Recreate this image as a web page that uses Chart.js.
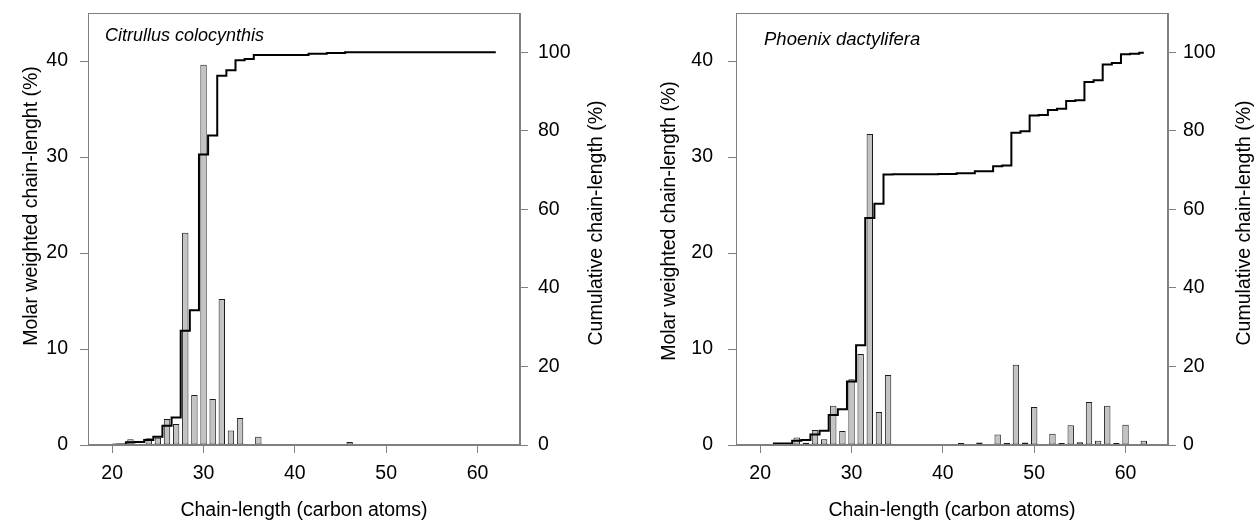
<!DOCTYPE html>
<html>
<head>
<meta charset="utf-8">
<script src="https://cdn.jsdelivr.net/npm/chart.js@4.4.0/dist/chart.umd.min.js"></script>
<style>
  html, body { margin: 0; padding: 0; background: #fff; }
  #wrap { position: relative; width: 1260px; height: 522px; }
  .panel { position: absolute; top: 0; width: 630px; height: 522px; }
  #left { left: 0; }
  #right { left: 630px; }
</style>
</head>
<body>
<div id="wrap">
  <div class="panel" id="left"><canvas id="chartCitrullus" width="630" height="522"></canvas></div>
  <div class="panel" id="right"><canvas id="chartPhoenix" width="630" height="522"></canvas></div>
</div>
<script>
// chain length (number of carbon atoms)
const chainLength = [20, 21, 22, 23, 24, 25, 26, 27, 28, 29, 30, 31, 32, 33, 34, 35, 36, 37, 38, 39, 40,
  41, 42, 43, 44, 45, 46, 47, 48, 49, 50, 51, 52, 53, 54, 55, 56, 57, 58, 59, 60, 61, 62];

const xTicks = [20, 30, 40, 50, 60];
const molarTicks = [0, 10, 20, 30, 40];
const cumulTicks = [0, 20, 40, 60, 80, 100];

// Citrullus colocynthis
const citrullusMolar = [0.05, 0.05, 0.6, 0.05, 0.7, 0.75, 2.7, 2.2, 22.1, 5.2, 39.6, 4.8, 15.2, 1.5, 2.8, 0.1, 0.85, 0, 0, 0, 0,
  0, 0.1, 0, 0.1, 0, 0.3, 0, 0, 0, 0, 0, 0, 0, 0, 0, 0, 0, 0, 0, 0, 0, 0];
const citrullusCumul = [0.05, 0.1, 0.7, 0.75, 1.3, 2.1, 4.9, 7.0, 29.1, 34.3, 74.0, 78.8, 94.0, 95.4, 98.0, 98.3, 99.3, 99.3, 99.3, 99.3, 99.3,
  99.3, 99.6, 99.6, 99.8, 99.8, 100, 100, 100, 100, 100, 100, 100, 100, 100, 100, 100, 100, 100, 100, 100, 100, 100];

// Phoenix dactylifera
const phoenixMolar = [0, 0.05, 0.1, 0.1, 0.77, 0.24, 1.57, 0.6, 4.08, 1.46, 6.86, 9.48, 32.4, 3.45, 7.28, 0, 0, 0, 0, 0, 0.05,
  0, 0.2, 0, 0.25, 0.05, 1.1, 0.2, 8.37, 0.25, 3.96, 0.1, 1.18, 0.2, 2.05, 0.28, 4.48, 0.45, 4.1, 0.2, 2.1, 0.05, 0.45];
const phoenixCumul = [0, 0, 0.4, 0.4, 1.1, 1.3, 2.7, 3.6, 7.65, 9.1, 16.2, 25.4, 57.8, 61.4, 68.9, 68.95, 68.95, 68.95, 68.95, 68.95, 69.0,
  69.0, 69.2, 69.2, 69.7, 69.7, 71.0, 71.2, 79.5, 79.9, 83.9, 84.0, 85.3, 85.6, 87.6, 87.8, 92.4, 92.9, 96.9, 97.3, 99.5, 99.6, 99.9];

const FONT = "'Liberation Sans', Arial, sans-serif";
const AXIS_GREY = '#7f7f7f';

// frame, species name and rotated y titles
const panelDecor = {
  id: 'panelDecor',
  afterDraw(chart, args, o) {
    const { ctx, chartArea: a } = chart;
    ctx.save();
    ctx.strokeStyle = AXIS_GREY;
    ctx.lineWidth = 1;
    ctx.strokeRect(Math.round(a.left) + 0.5, Math.round(a.top) + 0.5,
      Math.round(a.right - a.left) - 1, Math.round(a.bottom - a.top) - 1);

    ctx.fillStyle = '#000';
    ctx.font = 'italic ' + o.labelSize + 'px ' + FONT;
    ctx.textAlign = 'left';
    ctx.textBaseline = 'middle';
    ctx.fillText(o.label, a.left + o.labelDx, o.labelY);

    ctx.font = '19.5px ' + FONT;
    ctx.textAlign = 'center';
    [[o.leftTitle, o.leftX, o.leftY], [o.rightTitle, o.rightX, o.rightY]].forEach(([t, x, y]) => {
      ctx.save();
      ctx.translate(x, y);
      ctx.rotate(-Math.PI / 2);
      ctx.fillText(t, 0, 0);
      ctx.restore();
    });
    ctx.restore();
  }
};

function makePanel(id, molar, cumul, deco, leftW, rightW, leftPad, rightPad) {
  const tickFont = { family: FONT, size: 19.5 };
  // fixed axis boxes so the plot area lands at the same place in both panels
  const fitY = w => s => { s.width = w; s.paddingTop = 0; s.paddingBottom = 0; };
  return new Chart(document.getElementById(id), {
    type: 'bar',
    data: {
      datasets: [
        {
          type: 'line',
          data: chainLength.map((c, i) => ({ x: c, y: cumul[i] })),
          yAxisID: 'y1',
          stepped: 'middle',
          borderColor: '#000',
          borderWidth: 2,
          pointRadius: 0,
          fill: false,
          order: 1
        },
        {
          data: chainLength.map((c, i) => ({ x: c, y: molar[i] })),
          yAxisID: 'y',
          backgroundColor: '#c3c3c3',
          borderColor: '#1c1c1c',
          borderWidth: 1,
          borderSkipped: false,
          barPercentage: 0.7,
          categoryPercentage: 1,
          order: 2
        }
      ]
    },
    options: {
      responsive: false,
      animation: false,
      layout: { padding: { top: 13, left: 0, right: 0, bottom: 0 } },
      plugins: {
        legend: { display: false },
        tooltip: { enabled: false },
        panelDecor: deco
      },
      scales: {
        x: {
          type: 'linear',
          min: 17.35,
          max: 64.65,
          offset: false,
          afterBuildTicks: s => { s.ticks = xTicks.map(v => ({ value: v })); },
          afterFit: s => { s.height = 77; s.paddingLeft = 0; s.paddingRight = 0; },
          ticks: { font: tickFont, color: '#000', padding: 9, maxRotation: 0, autoSkip: false },
          grid: { drawOnChartArea: false, tickLength: 8, color: AXIS_GREY, offset: false },
          border: { color: AXIS_GREY },
          title: {
            display: true,
            text: 'Chain-length (carbon atoms)',
            font: { family: FONT, size: 19.5 },
            color: '#000',
            padding: { top: 0, bottom: 0 }
          }
        },
        y: {
          position: 'left',
          min: 0,
          max: 45,
          afterBuildTicks: s => { s.ticks = molarTicks.map(v => ({ value: v })); },
          afterFit: fitY(leftW),
          ticks: { font: tickFont, color: '#000', padding: leftPad },
          grid: { drawOnChartArea: false, tickLength: 8, color: AXIS_GREY },
          border: { color: AXIS_GREY }
        },
        y1: {
          position: 'right',
          min: 0,
          max: 110,
          afterBuildTicks: s => { s.ticks = cumulTicks.map(v => ({ value: v })); },
          afterFit: fitY(rightW),
          ticks: { font: tickFont, color: '#000', padding: rightPad },
          grid: { drawOnChartArea: false, tickLength: 8, color: AXIS_GREY },
          border: { color: AXIS_GREY }
        }
      }
    },
    plugins: [panelDecor]
  });
}

makePanel('chartCitrullus', citrullusMolar, citrullusCumul, {
  label: 'Citrullus colocynthis', labelSize: 18, labelDx: 17, labelY: 36,
  leftTitle: 'Molar weighted chain-lenght (%)', leftX: 32, leftY: 206,
  rightTitle: 'Cumulative chain-length (%)', rightX: 597, rightY: 223
}, 88, 110, 12, 10);

makePanel('chartPhoenix', phoenixMolar, phoenixCumul, {
  label: 'Phoenix dactylifera', labelSize: 18.5, labelDx: 28, labelY: 40,
  leftTitle: 'Molar weighted chain-length (%)', leftX: 40, leftY: 221,
  rightTitle: 'Cumulative chain-length (%)', rightX: 615, rightY: 223
}, 106, 92, 15, 7);
</script>
</body>
</html>
